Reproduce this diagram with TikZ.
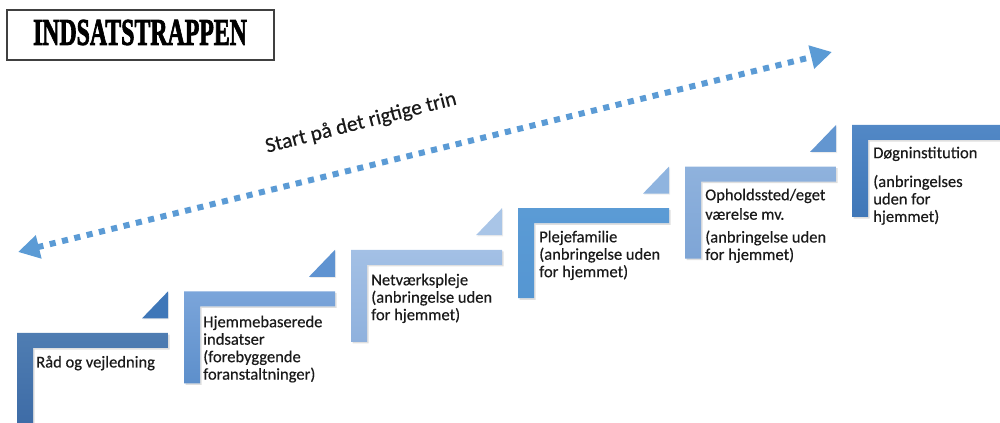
\documentclass[tikz,border=0pt]{standalone}
\usepackage{fontspec}
\setmainfont{Carlito}[UprightFeatures={FakeBold=0.4}]
\newfontfamily\titlefont{Liberation Serif}[BoldFeatures={FakeBold=2.5}]
\usetikzlibrary{arrows.meta,shadows}
\definecolor{arrowblue}{HTML}{5B9BD5}
\definecolor{txtgray}{HTML}{1A1A1A}
\definecolor{sa}{HTML}{4F7DB2}\definecolor{sab}{HTML}{3D6BA6}
\definecolor{sb}{HTML}{7BA5DA}\definecolor{sbb}{HTML}{5D8FCB}
\definecolor{sc}{HTML}{A3C0E5}\definecolor{scb}{HTML}{8FB1DD}
\definecolor{sd}{HTML}{5B9BD5}\definecolor{sdb}{HTML}{5596D2}
\definecolor{se}{HTML}{8FB2DD}\definecolor{seb}{HTML}{7EA5D6}
\definecolor{sf}{HTML}{5288C6}\definecolor{sfb}{HTML}{3F77B8}
\definecolor{ta}{HTML}{3F77B8}
\definecolor{tb}{HTML}{5F93D1}
\definecolor{tc}{HTML}{A9C5E7}
\definecolor{td}{HTML}{8FB4DF}
\definecolor{te}{HTML}{6396D0}
\newcommand\trinL[5]{%
  \path[stepshape, top color=#4, bottom color=#5] (#1,#2) -- ++(151,0) -- ++(0,15) -- ++(-135,0) -- ++(0,#3-15) -- ++(-16,0) -- cycle;}
\newcommand\trinT[3]{%
  \path[fill=#3, drop shadow={opacity=0.15, shadow xshift=0.8pt, shadow yshift=-0.8pt}] (#1,#2) -- ++(0,27) -- ++(-26,0) -- cycle;}
\begin{document}
\begin{tikzpicture}[x=0.75pt,y=-0.75pt,
  stepshape/.style={drop shadow={opacity=0.25, shadow xshift=1.2pt, shadow yshift=-1.2pt}},
  label/.style={anchor=north west, inner sep=0pt, align=left, text=txtgray,
    font=\fontsize{12.4pt}{13.1pt}\selectfont},
  dotarrow/.style={draw=arrowblue, line width=4.5pt, dash pattern=on 4.6pt off 4.9pt,
    {Triangle[length=16pt,width=17pt]}-{Triangle[length=16pt,width=17pt]}},
  titlebox/.style={draw=black!75, line width=1.4pt, fill=white}
]
\useasboundingbox (0,0) rectangle (1000,423);
\begin{scope}
\clip (0,0) rectangle (1000,423);
% title
\draw[titlebox] (7,10) rectangle (274,60);
\node[inner sep=0pt] (title) at (140,32.5) {\resizebox{160.5pt}{18.8pt}{\titlefont\bfseries INDSATSTRAPPEN}};
% arrow
\coordinate (arrowL) at (18,252);
\coordinate (arrowR) at (832,52);
\draw[dotarrow] (arrowL) -- (arrowR);
\node[rotate=14.3, text=txtgray, font=\fontsize{16pt}{19pt}\selectfont, inner sep=0pt] (start) at (361,123) {Start på det rigtige trin};
% steps
\trinL{17}{333}{95}{sa}{sab}
\trinT{168}{291.4}{ta}
\trinL{184}{291.4}{92}{sb}{sbb}
\trinT{335}{249.8}{tb}
\trinL{351}{249.8}{92}{sc}{scb}
\trinT{502}{208.2}{tc}
\trinL{518}{208.2}{90}{sd}{sdb}
\trinT{669}{166.6}{td}
\trinL{685}{166.6}{92}{se}{seb}
\trinT{836}{125}{te}
\trinL{852}{125}{92}{sf}{sfb}
% labels
\node[label] (raad) at (36,355.5) {Råd og vejledning};
\node[label] (hjem) at (203,315.5) {Hjemmebaserede\\indsatser\\(forebyggende\\foranstaltninger)};
\node[label] (netv) at (371,273.5) {Netværkspleje\\(anbringelse uden\\for hjemmet)};
\node[label] (pleje) at (539,230.5) {Plejefamilie\\(anbringelse uden\\for hjemmet)};
\node[label] (ophold) at (705,188.5) {Opholdssted/eget\\[1.5pt]værelse mv.\\[4pt](anbringelse uden\\for hjemmet)};
\node[label] (doegn) at (873,146.5) {Døgninstitution\\[8.5pt](anbringelses\\uden for\\hjemmet)};
\end{scope}
\end{tikzpicture}
\end{document}
